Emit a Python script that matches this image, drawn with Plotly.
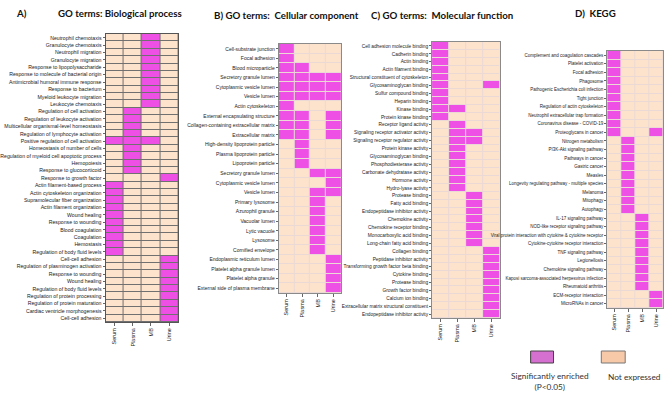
import plotly.graph_objects as go

W, H = 669, 394
samples = ["Serum", "Plasma", "MB", "Urine"]

# ---------------- Panel A: Biological process ----------------
A_terms = [
    "Neutrophil chemotaxis", "Granulocyte chemotaxis", "Neutrophil migration",
    "Granulocyte migration", "Response to lipopolysaccharide",
    "Response to molecule of bacterial origin", "Antimicrobial humoral immune response",
    "Response to bacterium", "Myeloid leukocyte migration", "Leukocyte chemotaxis",
    "Regulation of cell activation", "Regulation of leukocyte activation",
    "Multicellular organismal-level homeostasis", "Regulation of lymphocyte activation",
    "Positive regulation of cell activation", "Homeostasis of number of cells",
    "Regulation of myeloid cell apoptotic process", "Hemopoiesis",
    "Response to glucocorticoid", "Response to growth factor",
    "Actin filament-based process", "Actin cytoskeleton organization",
    "Supramolecular fiber organization", "Actin filament organization",
    "Wound healing", "Response to wounding", "Blood coagulation", "Coagulation",
    "Hemostasis", "Regulation of body fluid levels", "Cell-cell adhesion",
    "Regulation of plasminogen activation", "Response to wounding", "Wound healing",
    "Regulation of body fluid levels", "Regulation of protein processing",
    "Regulation of protein maturation", "Cardiac ventricle morphogenesis",
    "Cell-cell adhesion",
]
A_serum  = [0]*14 + [1] + [0]*5 + [1]*10 + [0]*9
A_plasma = [0]*10 + [1]*9 + [0]*20
A_mb     = [1]*10 + [0]*4 + [1] + [0]*24
A_urine  = [0]*19 + [1] + [0]*10 + [1]*9

# ---------------- Panel B: Cellular component ----------------
B_terms = [
    "Cell-substrate junction", "Focal adhesion", "Blood microparticle",
    "Secretory granule lumen", "Cytoplasmic vesicle lumen", "Vesicle lumen",
    "Actin cytoskeleton", "External encapsulating structure",
    "Collagen-containing extracellular matrix", "Extracellular matrix",
    "High-density lipoprotein particle", "Plasma lipoprotein particle",
    "Lipoprotein particle", "Secretory granule lumen", "Cytoplasmic vesicle lumen",
    "Vesicle lumen", "Primary lysosome", "Azurophil granule", "Vacuolar lumen",
    "Lytic vacuole", "Lysosome", "Cornified envelope", "Endoplasmic reticulum lumen",
    "Platelet alpha granule lumen", "Platelet alpha granule",
    "External side of plasma membrane",
]
B_serum  = [1]*10 + [0]*16
B_plasma = [0, 0, 1, 1, 1, 1, 0, 1, 1, 1, 1, 1, 1] + [0]*13
B_mb     = [0, 0, 0, 1, 1, 1] + [0]*7 + [1, 0, 1, 1, 1, 1, 1, 1, 1] + [0]*4
B_urine  = [0, 0, 0, 1, 1, 1, 0, 1, 1, 1, 0, 0, 0, 1, 1, 1] + [0]*6 + [1]*4

# ---------------- Panel C: Molecular function ----------------
C_terms = [
    "Cell adhesion molecule binding", "Cadherin binding", "Actin binding",
    "Actin filament binding", "Structural constituent of cytoskeleton",
    "Glycosaminoglycan binding", "Sulfur compound binding", "Heparin binding",
    "Kinase binding", "Protein kinase binding", "Receptor ligand activity",
    "Signaling receptor activator activity", "Signaling receptor regulator activity",
    "Protein kinase activity", "Glycosaminoglycan binding",
    "Phosphodiesterase activity", "Carbonate dehydratase activity",
    "Hormone activity", "Hydro-lyase activity", "Protease binding",
    "Fatty acid binding", "Endopeptidase inhibitor activity", "Chemokine activity",
    "Chemokine receptor binding", "Monocarboxylic acid binding",
    "Long-chain fatty acid binding", "Collagen binding",
    "Peptidase inhibitor activity", "Transforming growth factor beta binding",
    "Cytokine binding", "Protease binding", "Growth factor binding",
    "Calcium ion binding", "Extracellular matrix structural constituent",
    "Endopeptidase inhibitor activity",
]
C_serum  = [1]*10 + [0]*25
C_plasma = [0]*8 + [1, 0] + [1]*9 + [0]*16
C_mb     = [0]*11 + [1, 1] + [0]*6 + [1]*7 + [0]*9
C_urine  = [0]*5 + [1] + [0]*20 + [1]*9

# ---------------- Panel D: KEGG ----------------
D_terms = [
    "Complement and coagulation cascades", "Platelet activation", "Focal adhesion",
    "Phagosome", "Pathogenic Escherichia coli infection", "Tight junction",
    "Regulation of actin cytoskeleton", "Neutrophil extracellular trap formation",
    "Coronavirus disease - COVID-19", "Proteoglycans in cancer",
    "Nitrogen metabolism", "PI3K-Akt signaling pathway", "Pathways in cancer",
    "Gastric cancer", "Measles", "Longevity regulating pathway - multiple species",
    "Melanoma", "Mitophagy", "Autophagy", "IL-17 signaling pathway",
    "NOD-like receptor signaling pathway",
    "Viral protein interaction with cytokine & cytokine receptor",
    "Cytokine-cytokine receptor interaction", "TNF signaling pathway",
    "Legionellosis", "Chemokine signaling pathway",
    "Kaposi sarcoma-associated herpesvirus infection", "Rheumatoid arthritis",
    "ECM-receptor interaction", "MicroRNAs in cancer",
]
D_serum  = [1]*10 + [0]*20
D_plasma = [0]*10 + [1]*9 + [0]*11
D_mb     = [0]*19 + [1]*9 + [0]*2
D_urine  = [0]*9 + [1] + [0]*18 + [1]*2

MAGENTA = "#EE50E6"
PEACH = "#FDE3CC"
FONT = "Liberation Sans Narrow, Liberation Sans, Arial, sans-serif"

panels = [
    # terms, columns, pixel box (x0, x1, y0, y1), grid color, label size
    (A_terms, [A_serum, A_plasma, A_mb, A_urine], (103, 176, 34, 322), "#707070", 5.2),
    (B_terms, [B_serum, B_plasma, B_mb, B_urine], (277, 340, 44, 293), "#EBD9D6", 5.0),
    (C_terms, [C_serum, C_plasma, C_mb, C_urine], (431, 499, 42, 318), "#EBD9D6", 4.8),
    (D_terms, [D_serum, D_plasma, D_mb, D_urine], (607, 663, 51, 308), "#EBD9D6", 4.5),
]

fig = go.Figure()
layout = {}
for i, (terms, cols, (x0, x1, y0, y1), gridc, fs) in enumerate(panels):
    n = len(terms)
    z = [[cols[j][r] for j in range(4)] for r in range(n)]
    idx = "" if i == 0 else str(i + 1)
    fig.add_trace(go.Heatmap(
        z=z, x=samples, y=list(range(n)),
        colorscale=[[0, PEACH], [1, MAGENTA]], zmin=0, zmax=1,
        showscale=False, xgap=1, ygap=1,
        xaxis="x" + idx, yaxis="y" + idx, hoverinfo="skip",
    ))
    fig.add_shape(type="rect", xref="x" + idx + " domain", yref="y" + idx + " domain",
                  x0=0, x1=1, y0=0, y1=1, fillcolor=gridc, line_width=0, layer="below")
    linec = "#555555" if i == 0 else "#8a8a8a"
    layout["xaxis" + idx] = dict(
        domain=[x0 / W, x1 / W], anchor="y" + idx, tickangle=-90,
        tickfont=dict(family=FONT, size=5.5, color="#222"), ticks="outside",
        ticklen=3, tickcolor="#666", showline=True, linecolor=linec, mirror=True,
        linewidth=1, showgrid=False, zeroline=False,
    )
    layout["yaxis" + idx] = dict(
        domain=[1 - y1 / H, 1 - y0 / H], anchor="x" + idx,
        range=[n - 0.5, -0.5], tickvals=list(range(n)), ticktext=terms,
        tickfont=dict(family=FONT, size=fs, color="#222"), ticks="outside",
        ticklen=2, tickcolor="#666", showline=True, linecolor=linec, mirror=True,
        linewidth=1, showgrid=False, zeroline=False,
    )

fig.update_layout(**layout)

TFONT = "Lato, Open Sans, sans-serif"
titles = [
    ("A)", 11, 13), ("GO terms: Biological process", 53, 13),
    ("B) GO terms:  Cellular component", 210, 15),
    ("C) GO terms:  Molecular function", 368, 15),
    ("D)  KEGG", 573, 13),
]
for txt, px, py in titles:
    fig.add_annotation(text="<b>" + txt + "</b>", x=px / W, y=1 - py / H,
                       xref="paper", yref="paper", xanchor="left", yanchor="middle",
                       showarrow=False, font=dict(family=TFONT, size=9.7, color="#111"))

# legend
legend_items = [
    (530, 553, "#D56FD0", "#444444", "Significantly enriched<br>(P<0.05)", 549, 381, 8.3),
    (601, 625, "#F8C9A8", "#777777", "Not expressed", 634, 377, 8.3),
]
for bx0, bx1, fc, lc, label, tx, ty, lfs in legend_items:
    fig.add_shape(type="rect", xref="paper", yref="paper",
                  x0=bx0 / W, x1=bx1 / W, y0=1 - 363 / H, y1=1 - 351 / H,
                  fillcolor=fc, line=dict(color=lc, width=1))
    fig.add_annotation(text=label, x=tx / W, y=1 - ty / H, xref="paper", yref="paper",
                       xanchor="center", yanchor="middle", showarrow=False,
                       font=dict(family=TFONT, size=lfs, color="#333"))

fig.update_layout(width=W, height=H, autosize=False,
                  margin=dict(l=0, r=0, t=0, b=0),
                  paper_bgcolor="white", plot_bgcolor="white")

fig.write_html("out.html", config={"displayModeBar": False},
               post_script="document.body.style.margin='0';document.body.style.overflow='hidden';")
